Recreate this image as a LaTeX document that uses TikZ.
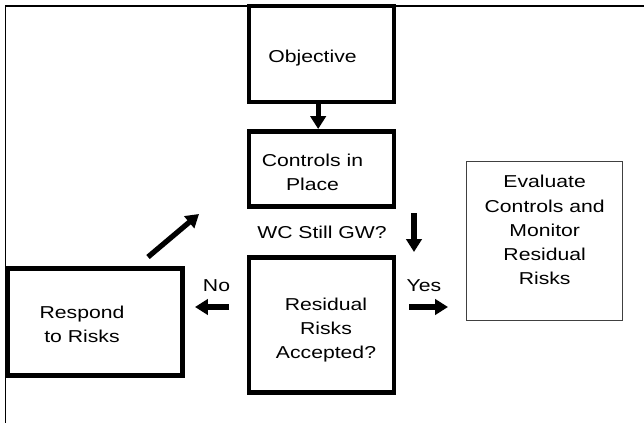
\documentclass[tikz,border=0pt]{standalone}
\usepackage{fontspec}
\setmainfont{Liberation Sans}[FakeStretch=1.23]
\usetikzlibrary{arrows.meta}
\tikzset{
	stepbox/.style={draw, line width=4.2pt, align=center, inner sep=0pt},
	evalbox/.style={draw=black!75, line width=0.8pt, align=center, inner sep=0pt},
	bigarrow/.style={line width=4.5pt, -{Triangle[length=11pt,width=13pt]}},
	lbl/.style={inner sep=0pt, anchor=base}
}
\begin{document}
\begin{tikzpicture}[x=0.03cm, y=-0.03cm, font=\fontsize{14.7}{20.7}\selectfont]
		\useasboundingbox (0,0) rectangle (644,423);
		%frame
		\draw[line width=1.7pt] (5.5,423) -- (5.5,6) -- (644,6);
		
		%boxes
		\node[stepbox, minimum width=4.35cm, minimum height=2.88cm, text height=17pt] (obj) at (321.5,54) {Objective\hspace*{0.54cm}};
		\node[stepbox, minimum width=4.35cm, minimum height=2.25cm, text height=37.4pt] (ctrl) at (321.5,169) {Controls in\hspace*{0.54cm}\\Place\hspace*{0.54cm}};
		\node[stepbox, minimum width=4.35cm, minimum height=4.05cm, text height=60.6pt] (res) at (321.5,325) {\hspace*{0.27cm}Residual\\\hspace*{0.27cm}Risks\\\hspace*{0.27cm}Accepted?};
		\node[stepbox, minimum width=5.25cm, minimum height=3.21cm, text height=35.7pt] (resp) at (95,322) {Respond\hspace*{0.78cm}\\to Risks\hspace*{0.78cm}};
		\node[evalbox, minimum width=4.68cm, minimum height=4.77cm, text depth=0.66cm] (eval) at (544.7,241.2) {Evaluate\\Controls and\\Monitor\\Residual\\Risks};
		
		%arrows
		\draw[bigarrow] ([xshift=-0.1cm]obj.south) -- ([xshift=-0.1cm]ctrl.north);
		\coordinate (gwtop) at (414,213);
		\coordinate (gwbot) at (414,252);
		\draw[bigarrow] (gwtop) -- (gwbot);
		\node[lbl] (gw) at (322,238) {WC Still GW?};
		
		\coordinate (backfrom) at (148,257);
		\coordinate (backto) at (199,214);
		\draw[bigarrow] (backfrom) -- (backto);
		
		\coordinate (nofrom) at (229,307);
		\coordinate (noto) at (195,307);
		\draw[bigarrow] (nofrom) -- (noto);
		\node[lbl] (no) at (216.5,291) {No};
		
		\coordinate (yesfrom) at (409,307);
		\coordinate (yesto) at (448,307);
		\draw[bigarrow] (yesfrom) -- (yesto);
		\node[lbl] (yes) at (424,291) {Yes};
	\end{tikzpicture}
\end{document}
